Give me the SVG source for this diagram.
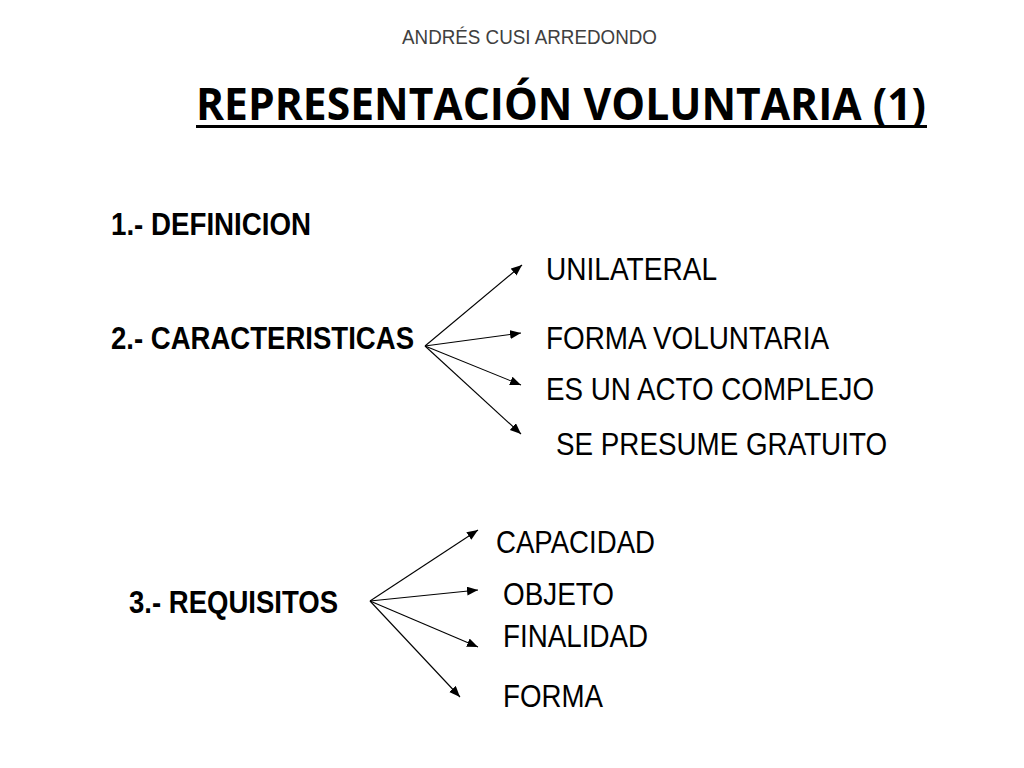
<svg xmlns="http://www.w3.org/2000/svg" width="1024" height="768" viewBox="0 0 1024 768">
<style>
.auth{font-family:"Liberation Sans",Arial,sans-serif;font-size:20px;fill:#404040}
.title{font-family:"Open Sans","Liberation Sans",Arial,sans-serif;font-weight:bold;font-size:45px;fill:#000}
.head{font-family:"Liberation Sans",Arial,sans-serif;font-weight:bold;font-size:31px;fill:#000}
.item{font-family:"Liberation Sans",Arial,sans-serif;font-size:32px;fill:#000}
.conn line{stroke:#000;stroke-width:1.1;marker-end:url(#ah)}
</style>
<defs>
<marker id="ah" markerUnits="userSpaceOnUse" markerWidth="12" markerHeight="10" refX="11" refY="4.5" orient="auto">
<path d="M0,0 L11,4.5 L0,9 z" fill="#000"/>
</marker>
</defs>
<rect width="1024" height="768" fill="#fff"/>
<g id="author"><text class="auth" x="402" y="44" textLength="255" lengthAdjust="spacingAndGlyphs">ANDRÉS CUSI ARREDONDO</text></g>
<g id="title">
<text class="title" x="196" y="120" textLength="730" lengthAdjust="spacingAndGlyphs">REPRESENTACIÓN VOLUNTARIA (1)</text>
<rect x="196" y="125" width="731" height="3" fill="#000"/>
</g>
<g id="definicion"><text class="head" x="111" y="235" textLength="200" lengthAdjust="spacingAndGlyphs">1.- DEFINICION</text></g>
<g id="caracteristicas"><text class="head" x="111" y="349" textLength="303" lengthAdjust="spacingAndGlyphs">2.- CARACTERISTICAS</text></g>
<g id="requisitos"><text class="head" x="129" y="613" textLength="209" lengthAdjust="spacingAndGlyphs">3.- REQUISITOS</text></g>
<g id="unilateral"><text class="item" x="546" y="280" textLength="171" lengthAdjust="spacingAndGlyphs">UNILATERAL</text></g>
<g id="forma-voluntaria"><text class="item" x="546" y="349" textLength="283" lengthAdjust="spacingAndGlyphs">FORMA VOLUNTARIA</text></g>
<g id="acto-complejo"><text class="item" x="546" y="400" textLength="328" lengthAdjust="spacingAndGlyphs">ES UN ACTO COMPLEJO</text></g>
<g id="gratuito"><text class="item" x="556" y="455" textLength="331" lengthAdjust="spacingAndGlyphs">SE PRESUME GRATUITO</text></g>
<g id="capacidad"><text class="item" x="496" y="553" textLength="159" lengthAdjust="spacingAndGlyphs">CAPACIDAD</text></g>
<g id="objeto"><text class="item" x="503" y="605" textLength="111" lengthAdjust="spacingAndGlyphs">OBJETO</text></g>
<g id="finalidad"><text class="item" x="503" y="647" textLength="145" lengthAdjust="spacingAndGlyphs">FINALIDAD</text></g>
<g id="forma"><text class="item" x="503" y="707" textLength="100" lengthAdjust="spacingAndGlyphs">FORMA</text></g>
<g id="connectors" class="conn">
<line x1="425" y1="346" x2="522" y2="265"/>
<line x1="425" y1="346" x2="521" y2="333"/>
<line x1="425" y1="346" x2="521" y2="385"/>
<line x1="425" y1="346" x2="521" y2="434"/>
<line x1="370" y1="601" x2="478" y2="530"/>
<line x1="370" y1="601" x2="478" y2="590"/>
<line x1="370" y1="601" x2="478" y2="647"/>
<line x1="370" y1="601" x2="460" y2="697"/>
</g>
</svg>
